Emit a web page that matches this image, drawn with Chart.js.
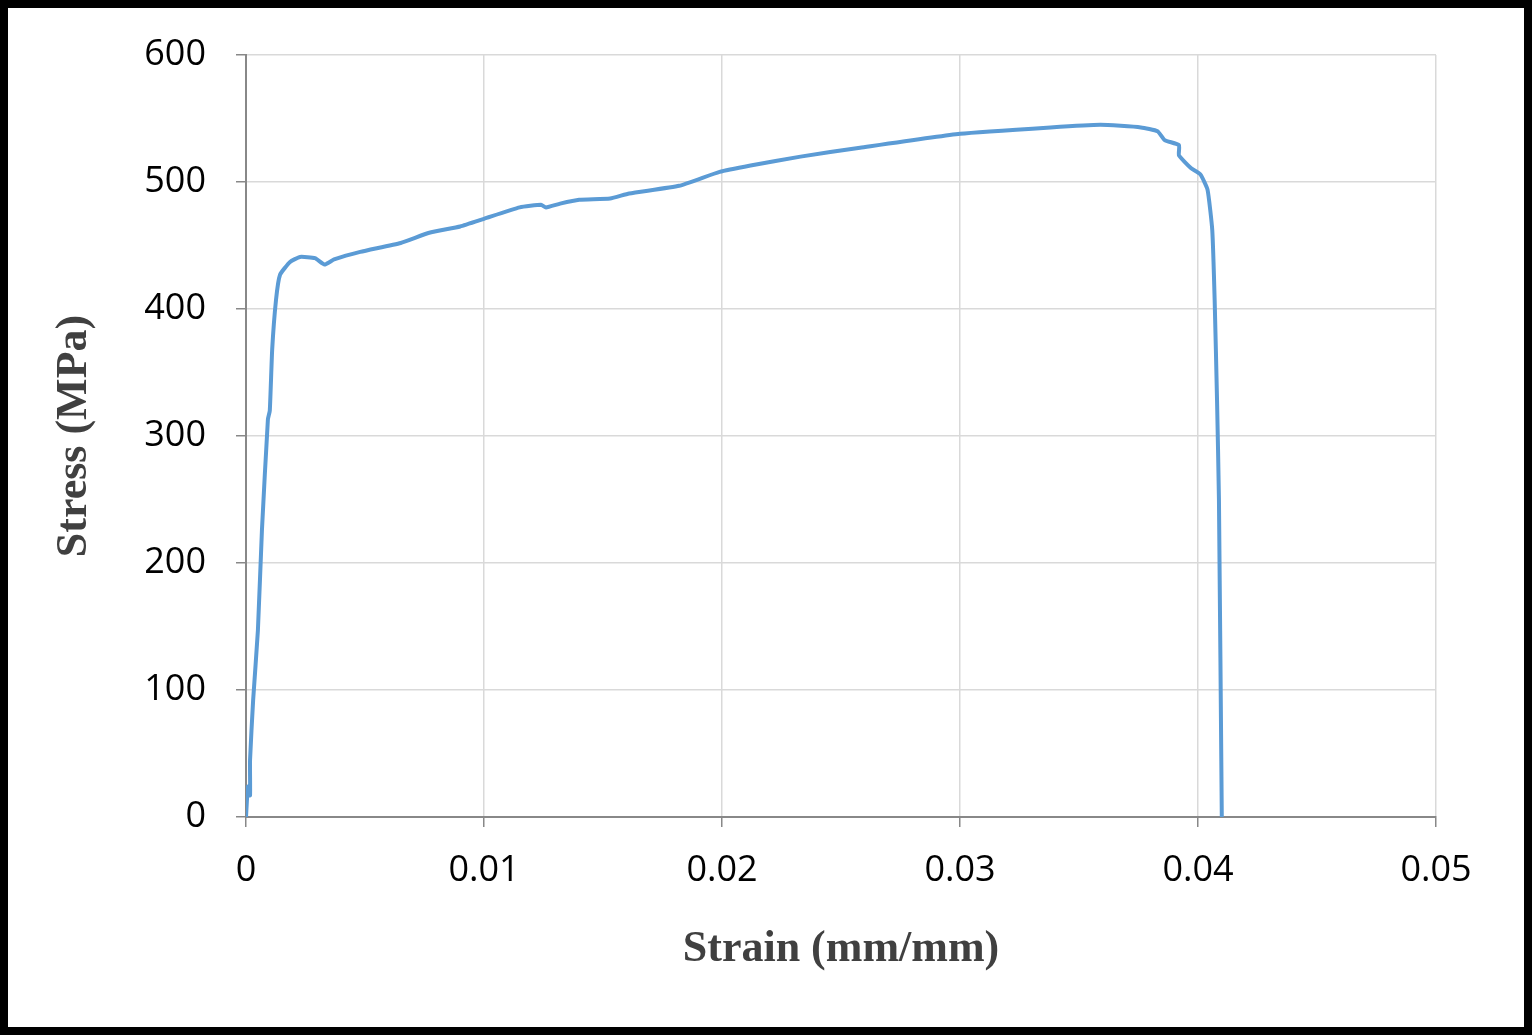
<!DOCTYPE html>
<html>
<head>
<meta charset="utf-8">
<script src="https://cdn.jsdelivr.net/npm/chart.js@4"></script>
<style>
  html, body { margin: 0; padding: 0; background: #fff; }
  #wrap { position: relative; width: 1532px; height: 1035px; }
</style>
</head>
<body>
<div id="wrap"><canvas id="grafico" width="1532" height="1035"></canvas></div>
<script>
// =====================
// DATA
// =====================
const strain = [0, 0.00008, 0.00017, 0.00017, 0.0003, 0.0005, 0.00067, 0.00092, 0.001, 0.0011,
  0.00126, 0.00143, 0.00185, 0.00227, 0.0029, 0.0033, 0.0037, 0.0048, 0.0065, 0.0077,
  0.009, 0.01, 0.0115, 0.0124, 0.0126, 0.0132, 0.014, 0.0153, 0.0161, 0.0182,
  0.0199, 0.0212, 0.0233, 0.0258, 0.03, 0.0338, 0.0359, 0.0376, 0.0383, 0.0386,
  0.0392, 0.0392, 0.0397, 0.0401, 0.0404, 0.0406, 0.0407, 0.0408, 0.04088, 0.041];
const stress = [0, 24, 17, 45, 92, 147, 226, 313, 320, 368,
  407, 427, 437, 441, 440, 435, 439, 445, 452, 460,
  465, 471, 480, 482, 480, 483, 486, 487, 491, 497,
  508, 513, 520, 527, 538, 543, 545, 543, 540, 533,
  529, 521, 511, 506, 494, 462, 407, 328, 250, 0];
const xTicks = [0, 0.01, 0.02, 0.03, 0.04, 0.05];
const yTicks = [0, 100, 200, 300, 400, 500, 600];

const tickFont = { family: "'Open Sans', 'Liberation Sans', sans-serif", size: 36 };
const titleFont = { family: "'Liberation Serif', 'DejaVu Serif', serif", size: 44, weight: "bold" };

const frame = {
  id: "frame",
  afterDraw(c) {
    const ctx = c.ctx;
    ctx.save();
    ctx.strokeStyle = "#000";
    ctx.lineWidth = 8;
    ctx.strokeRect(4, 4, c.width - 8, c.height - 8);
    ctx.restore();
  }
};

new Chart(document.getElementById("grafico"), {
  type: "scatter",
  data: {
    datasets: [{
      data: strain.map((s, i) => ({ x: s, y: stress[i] })),
      showLine: true,
      borderColor: "#5b9bd5",
      borderWidth: 4,
      pointRadius: 0,
      tension: 0.15
    }]
  },
  options: {
    responsive: false,
    animation: false,
    layout: { padding: { left: 48, right: 96, top: 55, bottom: 55 } },
    plugins: { legend: { display: false }, tooltip: { enabled: false } },
    scales: {
      x: {
        type: "linear", min: 0, max: 0.05,
        afterBuildTicks: a => { a.ticks = xTicks.map(v => ({ value: v })); },
        afterFit: a => { a.height = 1035 - 817 - 55; },
        ticks: { font: tickFont, color: "#000", padding: 22, callback: v => String(+v.toFixed(2)) },
        grid: { color: "#d9d9d9", lineWidth: 1.5, tickLength: 10, tickColor: "#888" },
        border: { color: "#888", width: 2 },
        title: { display: true, text: "Strain (mm/mm)", font: titleFont, color: "#404040", padding: { top: 4 } }
      },
      y: {
        min: 0, max: 600,
        afterBuildTicks: a => { a.ticks = yTicks.map(v => ({ value: v })); },
        afterFit: a => { a.width = 246 - 48; },
        ticks: { font: tickFont, color: "#000", padding: 30 },
        grid: { color: "#d9d9d9", lineWidth: 1.5, tickLength: 10, tickColor: "#888" },
        border: { color: "#888", width: 2 },
        title: { display: true, text: "Stress (MPa)", font: titleFont, color: "#404040", padding: 0 }
      }
    }
  },
  plugins: [frame]
});
</script>
</body>
</html>
